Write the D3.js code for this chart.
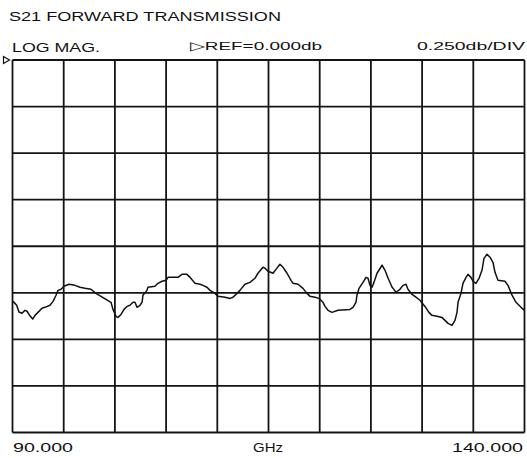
<!DOCTYPE html>
<html>
<head>
<meta charset="utf-8">
<script src="https://cdn.jsdelivr.net/npm/d3@7"></script>
<style>
  html, body { margin: 0; padding: 0; background: #fff; }
  svg { display: block; }
  text { font-family: "Liberation Sans", Arial, sans-serif; fill: #111; }
</style>
</head>
<body>
<svg id="chart" width="527" height="458"></svg>
<script>
// ---- data ----
const freqGHz = [90.05,90.41,90.63,90.93,91.22,91.42,91.61,91.97,92.20,92.49,92.88,93.17,93.66,93.96,94.25,94.44,94.74,95.03,95.52,96.10,96.59,97.08,97.66,98.15,98.64,99.13,99.62,99.81,100.11,100.30,100.60,100.89,101.18,101.47,101.77,101.96,102.16,102.45,102.65,102.74,103.13,103.23,103.91,104.21,104.60,104.99,105.19,106.16,106.55,107.04,107.33,107.82,108.31,108.60,108.99,109.29,109.78,110.07,110.75,111.24,111.53,111.92,112.21,112.70,113.19,113.68,113.97,114.46,114.66,114.95,115.44,115.73,116.12,116.42,116.81,117.20,117.40,117.89,118.37,118.76,119.05,119.54,119.93,120.32,120.52,120.81,121.20,121.79,122.96,123.25,123.54,123.64,123.84,124.23,124.52,124.72,124.91,125.11,125.30,125.60,126.09,126.38,126.68,127.07,127.16,127.45,127.84,128.13,128.43,128.62,129.01,129.30,129.79,130.28,130.67,130.96,131.45,131.94,132.24,132.53,132.92,133.21,133.41,133.51,133.80,133.99,134.29,134.48,134.77,134.97,135.26,135.56,135.85,136.04,136.34,136.63,136.92,137.12,137.41,138.09,138.39,138.78,139.17,139.66,140.00];
const s21dB = [-1.296,-1.317,-1.353,-1.360,-1.344,-1.349,-1.366,-1.391,-1.371,-1.355,-1.333,-1.328,-1.317,-1.296,-1.263,-1.237,-1.231,-1.215,-1.204,-1.210,-1.220,-1.226,-1.231,-1.253,-1.269,-1.285,-1.301,-1.339,-1.376,-1.382,-1.366,-1.339,-1.323,-1.317,-1.301,-1.301,-1.328,-1.317,-1.301,-1.263,-1.237,-1.220,-1.215,-1.199,-1.188,-1.183,-1.167,-1.167,-1.151,-1.151,-1.167,-1.199,-1.204,-1.210,-1.220,-1.237,-1.253,-1.269,-1.274,-1.280,-1.274,-1.253,-1.237,-1.204,-1.194,-1.172,-1.145,-1.113,-1.118,-1.134,-1.145,-1.124,-1.097,-1.113,-1.145,-1.183,-1.199,-1.204,-1.226,-1.253,-1.269,-1.274,-1.280,-1.301,-1.323,-1.344,-1.355,-1.344,-1.339,-1.328,-1.301,-1.263,-1.226,-1.194,-1.167,-1.172,-1.210,-1.220,-1.194,-1.145,-1.102,-1.129,-1.172,-1.220,-1.226,-1.247,-1.231,-1.210,-1.204,-1.231,-1.258,-1.269,-1.290,-1.323,-1.355,-1.371,-1.376,-1.382,-1.398,-1.414,-1.425,-1.398,-1.355,-1.301,-1.253,-1.199,-1.167,-1.151,-1.167,-1.188,-1.199,-1.172,-1.129,-1.065,-1.043,-1.059,-1.086,-1.140,-1.183,-1.188,-1.210,-1.263,-1.301,-1.328,-1.344];

const startGHz = 90, stopGHz = 140;
const refDB = 0.0, scaleDBperDiv = 0.25, nDivY = 8, nDivX = 10;
const titleText = "S21 FORWARD TRANSMISSION";
const formatText = "LOG MAG.";
const refText = "\u25B7REF=0.000db";
const scaleText = "0.250db/DIV";
const xTickLabels = ["90.000", "GHz", "140.000"];

(function () {
// ---- layout ----
const svg = d3.select("#chart");
const pL = 12.5, pR = 524.5, pT = 60, pB = 432.5;

const x = d3.scaleLinear().domain([startGHz, stopGHz]).range([pL, pR]);
const y = d3.scaleLinear().domain([refDB - nDivY * scaleDBperDiv, refDB]).range([pB, pT]);

const xGrid = d3.range(nDivX + 1).map(i => startGHz + i * (stopGHz - startGHz) / nDivX);
const yGrid = d3.range(nDivY + 1).map(i => refDB - i * scaleDBperDiv);

const gridColor = "#141414";
const g = svg.append("g");

g.selectAll("line.v").data(xGrid).enter().append("line")
  .attr("x1", d => x(d)).attr("x2", d => x(d))
  .attr("y1", pT).attr("y2", pB)
  .attr("stroke", gridColor).attr("stroke-width", 1.8);

g.selectAll("line.h").data(yGrid).enter().append("line")
  .attr("x1", pL).attr("x2", pR)
  .attr("y1", d => y(d)).attr("y2", d => y(d))
  .attr("stroke", gridColor).attr("stroke-width", 1.8);

// trace
const pts = freqGHz.map((f, i) => [f, s21dB[i]]);
const line = d3.line().x(d => x(d[0])).y(d => y(d[1])).curve(d3.curveLinear);
svg.append("path").datum(pts)
  .attr("d", line)
  .attr("fill", "none")
  .attr("stroke", "#111")
  .attr("stroke-width", 1.5)
  .attr("stroke-linejoin", "round");

// reference marker at top-left
const ry = y(refDB);
svg.append("path")
  .attr("d", `M3.5,${ry - 3.5} L9.5,${ry} L3.5,${ry + 3.5} Z`)
  .attr("fill", "#fff").attr("stroke", "#111").attr("stroke-width", 1.2);

// texts
svg.append("text").attr("x", 9).attr("y", 21)
  .attr("font-size", 12.5).attr("textLength", 272).attr("lengthAdjust", "spacingAndGlyphs")
  .text(titleText);
svg.append("text").attr("x", 12).attr("y", 52)
  .attr("font-size", 12.5).attr("textLength", 88).attr("lengthAdjust", "spacingAndGlyphs")
  .text(formatText);
svg.append("text").attr("x", 190).attr("y", 50)
  .attr("font-size", 11.5).attr("textLength", 132).attr("lengthAdjust", "spacingAndGlyphs")
  .text(refText);
svg.append("text").attr("x", 417).attr("y", 50)
  .attr("font-size", 11.5).attr("textLength", 108).attr("lengthAdjust", "spacingAndGlyphs")
  .text(scaleText);

svg.append("text").attr("x", 13).attr("y", 452)
  .attr("font-size", 12).attr("textLength", 60).attr("lengthAdjust", "spacingAndGlyphs")
  .text(xTickLabels[0]);
svg.append("text").attr("x", 253).attr("y", 452)
  .attr("font-size", 12).attr("textLength", 30).attr("lengthAdjust", "spacingAndGlyphs")
  .text(xTickLabels[1]);
svg.append("text").attr("x", 452).attr("y", 452)
  .attr("font-size", 12).attr("textLength", 71).attr("lengthAdjust", "spacingAndGlyphs")
  .text(xTickLabels[2]);
})();
</script>
</body>
</html>
